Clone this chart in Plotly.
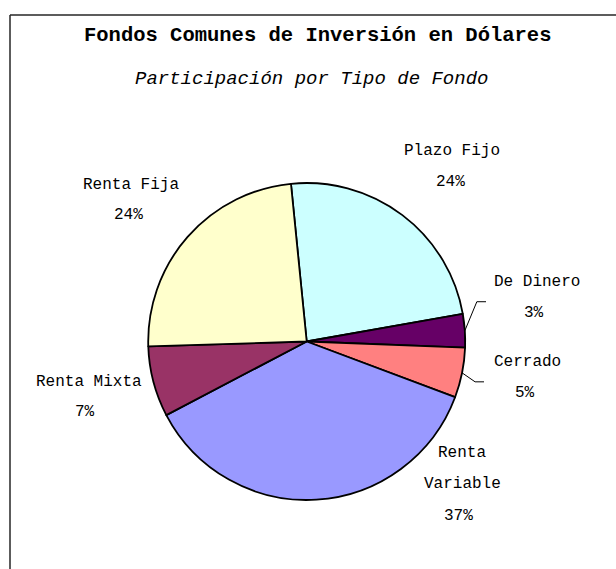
import math
import plotly.graph_objects as go

# Fund categories, clockwise from the top
categories = ["Plazo Fijo", "De Dinero", "Cerrado", "Renta Variable", "Renta Mixta", "Renta Fija"]
shares = [23.8, 3.4, 5.1, 36.6, 7.2, 23.9]
colors = ["#CCFFFF", "#660066", "#FF8080", "#9999FF", "#993366", "#FFFFCC"]

title_text = "Fondos Comunes de Inversión en Dólares"
subtitle_text = "Participación por Tipo de Fondo"

# Page geometry (pixels)
W, H = 616, 569
CX, CY, R = 306.7, 341.5, 158.5
ROTATION = -5.7
FONT = "Liberation Mono"


def px(x):
    return x / W


def py(y):
    return 1 - y / H


total = sum(shares)
pct = {c: f"{round(100 * v / total)}%" for c, v in zip(categories, shares)}

fig = go.Figure(
    go.Pie(
        labels=categories,
        values=shares,
        sort=False,
        direction="clockwise",
        rotation=ROTATION,
        marker=dict(colors=colors, line=dict(color="black", width=1.8)),
        textinfo="none",
        hoverinfo="label+percent",
        showlegend=False,
        domain=dict(x=[px(CX - R), px(CX + R)], y=[py(CY + R), py(CY - R)]),
    )
)

# Label text lines and where each line is centred: (x_name, x_pct, [y per line], name lines)
label_layout = {
    "Plazo Fijo": (452, 450, [151, 182], ["Plazo Fijo"]),
    "De Dinero": (537, 534, [282, 313], ["De Dinero"]),
    "Cerrado": (527, 525, [362, 393], ["Cerrado"]),
    "Renta Variable": (462, 458, [453, 484, 516], ["Renta", "Variable"]),
    "Renta Mixta": (89, 85, [382, 412], ["Renta Mixta"]),
    "Renta Fija": (131, 128, [185, 215], ["Renta Fija"]),
}

annotations = []
for cat in categories:
    xn, xp, ys, lines = label_layout[cat]
    texts = lines + [pct[cat]]
    for i, (t, y) in enumerate(zip(texts, ys)):
        x = xp if i == len(texts) - 1 else xn
        annotations.append(dict(
            x=px(x), y=py(y), xref="paper", yref="paper",
            text=t, showarrow=False, xanchor="center", yanchor="middle",
            font=dict(family=FONT, size=16, color="black"),
        ))

annotations.append(dict(
    x=px(317), y=py(35), xref="paper", yref="paper", text=f"<b>{title_text}</b>",
    showarrow=False, xanchor="center", yanchor="middle",
    font=dict(family=FONT, size=20.5, color="black"),
))
annotations.append(dict(
    x=px(311), y=py(79), xref="paper", yref="paper", text=f"<i>{subtitle_text}</i>",
    showarrow=False, xanchor="center", yanchor="middle",
    font=dict(family=FONT, size=19, color="black"),
))

shapes = [
    # chart frame (left and top edges)
    dict(type="line", xref="paper", yref="paper", x0=px(10), x1=px(10), y0=py(15), y1=0,
         line=dict(color="#262626", width=1.5)),
    dict(type="line", xref="paper", yref="paper", x0=px(10), x1=1, y0=py(15), y1=py(15),
         line=dict(color="#262626", width=1.5)),
]

# Leader lines for the two narrow slices, starting at each slice's mid-angle on the rim
leaders = {"De Dinero": (12, -29, 486), "Cerrado": (13, 9, 484)}
cum = 0.0
for cat, v in zip(categories, shares):
    mid = math.radians(ROTATION + 360 * (cum + v / 2) / total)
    cum += v
    if cat in leaders:
        dx, dy, xend = leaders[cat]
        x0 = CX + R * math.sin(mid)
        y0 = CY - R * math.cos(mid)
        x1, y1 = x0 + dx, y0 + dy
        path = f"M {px(x0)},{py(y0)} L {px(x1)},{py(y1)} L {px(xend)},{py(y1)}"
        shapes.append(dict(type="path", xref="paper", yref="paper", path=path,
                           line=dict(color="black", width=1)))

fig.update_layout(
    width=W, height=H,
    margin=dict(l=0, r=0, t=0, b=0),
    paper_bgcolor="white", plot_bgcolor="white",
    annotations=annotations, shapes=shapes,
)

fig.write_html("out.html")
